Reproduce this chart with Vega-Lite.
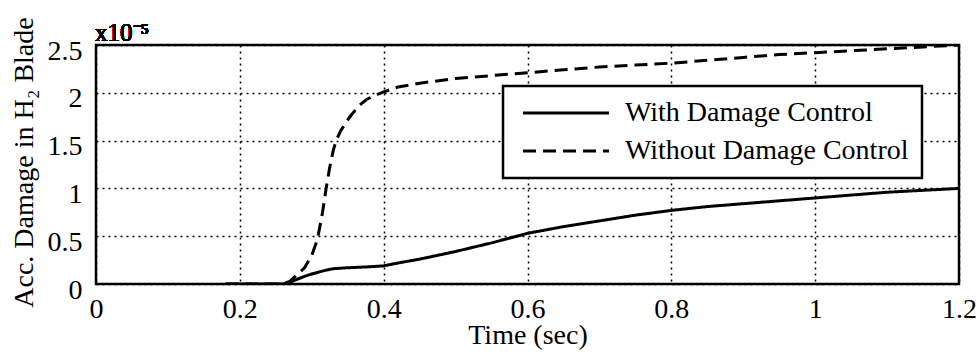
{
  "$schema": "https://vega.github.io/schema/vega-lite/v6.json",
  "autosize": "none",
  "width": 863,
  "height": 239,
  "padding": {"left": 96, "top": 45, "right": 20, "bottom": 72},
  "background": "white",
  "config": {
    "font": "Liberation Serif",
    "view": {"stroke": "black", "strokeWidth": 2.5},
    "axis": {
      "labelFont": "Liberation Serif", "labelFontSize": 28, "labelColor": "black",
      "titleFont": "Liberation Serif", "titleFontSize": 28, "titleColor": "black", "titleFontWeight": "normal",
      "ticks": false, "tickSize": 0, "domain": false,
      "grid": true, "gridColor": "black", "gridDash": [2, 4], "gridWidth": 1.5, "gridOpacity": 1,
      "labelFlush": false, "labelOverlap": false
    },
    "legend": {
      "labelFont": "Liberation Serif", "labelFontSize": 28, "labelColor": "black"
    }
  },
  "data": {"values": [
    {"t": 0.18, "d": 0, "s": "With Damage Control"},
    {"t": 0.26, "d": 0, "s": "With Damage Control"},
    {"t": 0.27, "d": 0.02, "s": "With Damage Control"},
    {"t": 0.28, "d": 0.05, "s": "With Damage Control"},
    {"t": 0.29, "d": 0.08, "s": "With Damage Control"},
    {"t": 0.30, "d": 0.105, "s": "With Damage Control"},
    {"t": 0.31, "d": 0.125, "s": "With Damage Control"},
    {"t": 0.32, "d": 0.145, "s": "With Damage Control"},
    {"t": 0.33, "d": 0.16, "s": "With Damage Control"},
    {"t": 0.35, "d": 0.17, "s": "With Damage Control"},
    {"t": 0.38, "d": 0.18, "s": "With Damage Control"},
    {"t": 0.40, "d": 0.19, "s": "With Damage Control"},
    {"t": 0.42, "d": 0.22, "s": "With Damage Control"},
    {"t": 0.45, "d": 0.26, "s": "With Damage Control"},
    {"t": 0.50, "d": 0.34, "s": "With Damage Control"},
    {"t": 0.55, "d": 0.43, "s": "With Damage Control"},
    {"t": 0.60, "d": 0.53, "s": "With Damage Control"},
    {"t": 0.65, "d": 0.6, "s": "With Damage Control"},
    {"t": 0.70, "d": 0.66, "s": "With Damage Control"},
    {"t": 0.75, "d": 0.72, "s": "With Damage Control"},
    {"t": 0.80, "d": 0.77, "s": "With Damage Control"},
    {"t": 0.85, "d": 0.81, "s": "With Damage Control"},
    {"t": 0.90, "d": 0.84, "s": "With Damage Control"},
    {"t": 0.95, "d": 0.87, "s": "With Damage Control"},
    {"t": 1.00, "d": 0.9, "s": "With Damage Control"},
    {"t": 1.05, "d": 0.93, "s": "With Damage Control"},
    {"t": 1.10, "d": 0.96, "s": "With Damage Control"},
    {"t": 1.15, "d": 0.98, "s": "With Damage Control"},
    {"t": 1.20, "d": 1.0, "s": "With Damage Control"},
    {"t": 0.18, "d": 0, "s": "Without Damage Control"},
    {"t": 0.26, "d": 0, "s": "Without Damage Control"},
    {"t": 0.27, "d": 0.03, "s": "Without Damage Control"},
    {"t": 0.28, "d": 0.1, "s": "Without Damage Control"},
    {"t": 0.29, "d": 0.17, "s": "Without Damage Control"},
    {"t": 0.30, "d": 0.3, "s": "Without Damage Control"},
    {"t": 0.308, "d": 0.47, "s": "Without Damage Control"},
    {"t": 0.315, "d": 0.75, "s": "Without Damage Control"},
    {"t": 0.32, "d": 1.0, "s": "Without Damage Control"},
    {"t": 0.325, "d": 1.22, "s": "Without Damage Control"},
    {"t": 0.33, "d": 1.4, "s": "Without Damage Control"},
    {"t": 0.334, "d": 1.5, "s": "Without Damage Control"},
    {"t": 0.34, "d": 1.6, "s": "Without Damage Control"},
    {"t": 0.353, "d": 1.75, "s": "Without Damage Control"},
    {"t": 0.365, "d": 1.86, "s": "Without Damage Control"},
    {"t": 0.376, "d": 1.93, "s": "Without Damage Control"},
    {"t": 0.39, "d": 1.98, "s": "Without Damage Control"},
    {"t": 0.40, "d": 2.01, "s": "Without Damage Control"},
    {"t": 0.42, "d": 2.06, "s": "Without Damage Control"},
    {"t": 0.45, "d": 2.1, "s": "Without Damage Control"},
    {"t": 0.50, "d": 2.15, "s": "Without Damage Control"},
    {"t": 0.55, "d": 2.18, "s": "Without Damage Control"},
    {"t": 0.60, "d": 2.21, "s": "Without Damage Control"},
    {"t": 0.65, "d": 2.24, "s": "Without Damage Control"},
    {"t": 0.70, "d": 2.27, "s": "Without Damage Control"},
    {"t": 0.75, "d": 2.29, "s": "Without Damage Control"},
    {"t": 0.80, "d": 2.31, "s": "Without Damage Control"},
    {"t": 0.85, "d": 2.34, "s": "Without Damage Control"},
    {"t": 0.90, "d": 2.37, "s": "Without Damage Control"},
    {"t": 0.95, "d": 2.4, "s": "Without Damage Control"},
    {"t": 1.00, "d": 2.42, "s": "Without Damage Control"},
    {"t": 1.05, "d": 2.44, "s": "Without Damage Control"},
    {"t": 1.10, "d": 2.46, "s": "Without Damage Control"},
    {"t": 1.15, "d": 2.48, "s": "Without Damage Control"},
    {"t": 1.20, "d": 2.5, "s": "Without Damage Control"}
  ]},
  "layer": [
    {
      "mark": {"type": "line", "color": "black", "strokeWidth": 3, "clip": true},
      "encoding": {
        "x": {
          "field": "t", "type": "quantitative",
          "scale": {"domain": [0, 1.2], "nice": false, "zero": false},
          "axis": {"values": [0, 0.2, 0.4, 0.6, 0.8, 1, 1.2], "format": "~f", "title": "Time (sec)",
            "labelPadding": 11, "labelBaseline": "top", "titleBaseline": "alphabetic", "titleY": 59}
        },
        "y": {
          "field": "d", "type": "quantitative",
          "scale": {"domain": [0, 2.5], "nice": false},
          "axis": {"values": [0, 0.5, 1, 1.5, 2, 2.5], "format": "~f", "title": "Acc. Damage in H₂ Blade",
            "labelPadding": 14, "labelBaseline": "middle", "labelOffset": 6,
            "titleBaseline": "alphabetic", "titleX": -64, "titleY": 117, "titleAngle": -90}
        },
        "strokeDash": {
          "field": "s", "type": "nominal",
          "scale": {"domain": ["With Damage Control", "Without Damage Control"], "range": [[1, 0], [13, 7]]},
          "legend": {
            "title": null, "orient": "none", "legendX": 407, "legendY": 41,
            "padding": 13, "rowPadding": 10,
            "fillColor": "white", "strokeColor": "black",
            "symbolType": "M-0.7,0H7.9", "symbolSize": 400, "symbolStrokeWidth": 3,
            "symbolStrokeColor": "black", "symbolFillColor": "transparent",
            "labelOffset": 81, "labelFontSize": 28, "labelLimit": 500,
            "encode": {"legend": {"update": {"strokeWidth": {"value": 2.5}}}}
          }
        }
      }
    },
    {
      "mark": {"type": "text", "text": "x10⁻⁵", "align": "left", "baseline": "alphabetic", "dx": -1, "dy": -4, "font": "Liberation Serif", "fontSize": 25, "color": "black"},
      "encoding": {
        "x": {"datum": 0, "type": "quantitative"},
        "y": {"datum": 2.5, "type": "quantitative"}
      }
    }
  ]
}
